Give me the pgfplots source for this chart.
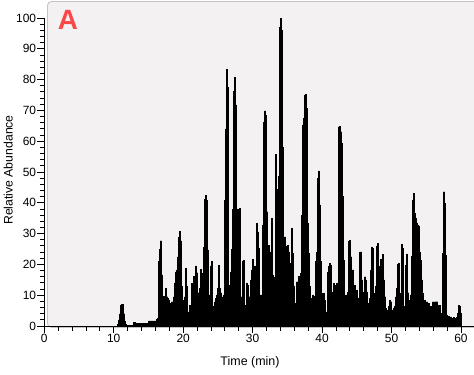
\documentclass[border=0pt]{standalone}
\usepackage{fontspec}
\setmainfont{Liberation Sans}
\usepackage{pgfplots}
\pgfplotsset{compat=1.18}
\definecolor{bgc}{RGB}{243,241,242}
\definecolor{bdc}{RGB}{195,195,195}
\definecolor{lblred}{RGB}{250,72,72}
\begin{document}
\begin{tikzpicture}[x=1bp,y=1bp]
\path[use as bounding box] (0,0) rectangle (474,374);
\filldraw[fill=bgc, draw=bdc, line width=0.8bp, rounded corners=4bp] (47.5,46.5) rectangle (482,372.5);
\begin{axis}[
  at={(44.3bp,48bp)}, anchor=south west,
  scale only axis, width=429.6bp, height=324bp,
  xmin=0, xmax=61.86, ymin=0, ymax=105.2,
  axis x line=bottom, axis y line=left,
  x axis line style={-, line width=1bp},
  y axis line style={draw=none, -},
  tick align=outside,
  xtick={0,10,...,60}, ytick={0,10,...,100},
  minor xtick={0,2,...,60}, minor ytick={0,2,...,100},
  major tick length=7bp, minor tick length=4.5bp,
  tick style={black, line width=0.9bp},
  tick label style={font=\fontsize{12}{14}\selectfont, /pgf/number format/assume math mode=true},
  xticklabel style={inner sep=1bp},
  yticklabel style={inner sep=1bp},
  clip=false,
]
\addplot[fill=black, draw=black, line width=0.3bp, const plot mark mid] table {
0 0
10.47 0
10.61 0.5
10.76 2
10.90 4
11.04 6.8
11.19 7.1
11.33 7.0
11.48 4
11.62 1.5
11.76 0.5
11.91 0.3
12.77 0.3
12.92 1.3
13.06 1.3
13.21 0.9
14.93 0.9
15.08 1.7
16.08 1.7
16.23 2.2
16.37 2.6
16.52 20.9
16.66 25
16.80 27.7
16.95 16.6
17.09 5.2
17.24 9.7
17.38 7.9
17.52 12.3
17.67 9.5
17.81 9
17.96 8.4
18.10 5.2
18.24 7.4
18.39 7.9
18.53 7.5
18.68 9.5
18.82 14
18.96 17.6
19.11 18.2
19.25 22.5
19.40 28.8
19.54 30.8
19.68 27.7
19.83 12.8
19.97 8.4
20.12 4.2
20.26 9.5
20.40 18.7
20.55 12.8
20.69 4.3
20.84 4.6
20.98 6.8
21.12 6.3
21.27 13.9
21.41 12.8
21.56 16.2
21.70 14.4
21.84 19.5
21.99 17.3
22.13 10.8
22.28 8.4
22.42 12.2
22.56 18.4
22.71 9.5
22.85 17.1
23.00 25.5
23.14 41.1
23.28 42.5
23.43 40.9
23.57 24.7
23.72 10.1
23.86 7.4
24.00 19.5
24.15 21.1
24.29 6.3
24.44 6.3
24.58 7.9
24.72 9
24.87 10.1
25.01 12.2
25.16 19.8
25.30 12.2
25.44 10.8
25.59 9
25.73 9.5
25.88 10.1
26.02 40.9
26.16 64
26.31 83.4
26.45 77.6
26.60 13.3
26.74 10.7
26.88 17.6
27.03 24.9
27.17 37.9
27.32 76.1
27.46 80.7
27.60 71.8
27.75 38
27.89 32.2
28.04 38
28.18 38.3
28.32 9.5
28.47 7.5
28.61 20.9
28.76 21.4
28.90 6.8
29.04 6.8
29.19 14
29.33 13.3
29.48 9.5
29.62 9.5
29.76 15
29.91 18.2
30.05 21.6
30.20 15.2
30.34 19.5
30.48 9.5
30.63 33.3
30.77 30.6
30.92 25.2
31.06 10.1
31.20 10.1
31.35 9
31.49 32.8
31.64 66.3
31.78 69.9
31.92 68.5
32.07 37.1
32.21 13.3
32.36 26.3
32.50 18.7
32.64 24.1
32.79 35
32.93 16.6
33.08 15.8
33.22 15
33.36 55.8
33.51 44.4
33.65 22.7
33.80 48.5
33.94 97
34.08 100
34.23 96
34.37 58
34.52 22.7
34.66 29
34.80 26
34.95 15
35.09 26.3
35.24 24.1
35.38 12.8
35.52 20.3
35.67 31.7
35.81 23.6
35.96 13
36.10 7.4
36.24 7.4
36.39 14.4
36.53 14.3
36.68 16.2
36.82 7.9
36.96 17.1
37.11 36
37.25 65.3
37.40 67.4
37.54 75
37.68 75.3
37.83 70.7
37.97 33.3
38.12 23.6
38.26 12.8
38.40 6.8
38.55 9
38.69 10.1
38.84 9.7
38.98 6.8
39.12 20.9
39.27 24.1
39.41 47.9
39.56 50.4
39.70 39.3
39.84 20.9
39.99 10.6
40.13 7.9
40.28 10.6
40.42 8.4
40.56 4.6
40.71 4.6
40.85 17.6
41.00 19.3
41.14 20.3
41.28 19.8
41.43 11.1
41.57 5.2
41.72 13.9
41.86 13.3
42.00 11.7
42.15 13.9
42.29 13.3
42.44 64.7
42.58 64.9
42.72 63.1
42.87 59.3
43.01 42
43.16 21.4
43.30 6.8
43.44 10.1
43.59 9.5
43.73 11.1
43.88 27.4
44.02 27.9
44.16 22.5
44.31 18.2
44.45 18.2
44.60 12.8
44.74 13.3
44.88 6.8
45.03 11.7
45.17 7.9
45.32 9
45.46 24.1
45.60 24.1
45.75 15
45.89 5.7
46.04 11.1
46.18 16
46.32 15
46.47 11.1
46.61 7.4
46.76 7.5
46.90 9
47.04 18.2
47.19 25.7
47.33 25.2
47.48 10.6
47.62 7.9
47.76 12.8
47.91 26
48.05 26.8
48.20 19.3
48.34 15.5
48.48 21.6
48.63 16
48.77 23.3
48.92 15
49.06 9.5
49.20 5.7
49.35 5
49.49 5.2
49.64 6.3
49.78 8.4
49.92 7.9
50.07 5.2
50.21 5
50.36 5.7
50.50 6.3
50.64 9.5
50.79 12.2
50.93 20
51.08 20.3
51.22 10.6
51.36 9
51.51 26.6
51.65 25.2
51.80 6.3
51.94 2.5
52.08 19.8
52.23 23.4
52.37 10.8
52.52 7.9
52.66 8.4
52.80 10.1
52.95 22.7
53.09 40.9
53.24 43.1
53.38 36.6
53.52 35
53.67 33.5
53.81 32.8
53.96 32.5
54.10 24.1
54.24 21.4
54.39 15
54.53 10.6
54.68 7.9
54.82 8.4
54.96 6.3
55.11 7.9
55.25 5.7
55.40 7.4
55.54 5.2
55.68 6.3
55.83 5.5
55.97 7.9
56.12 7.4
56.26 7.9
56.40 7.9
56.55 7.9
56.69 6.8
56.84 5.2
56.98 6.8
57.12 4.1
57.27 4.1
57.41 23.6
57.56 43.6
57.70 39.8
57.84 23
57.99 3.6
58.13 3
58.28 3.2
58.42 2.5
58.56 3
58.71 1.9
58.85 2.5
59.00 2.8
59.14 2.5
59.28 1.9
59.43 2.8
59.57 4.1
59.72 6.8
59.86 6.3
60.00 4.1
60.10 0
61.86 0
} \closedcycle;
\draw[line width=1bp] (axis cs:0,100) -- (axis cs:0,0);
\end{axis}
\node[text=lblred, font=\fontsize{28}{28}\selectfont\bfseries, inner sep=0pt] at (68,354) {A};
\node[rotate=90, font=\fontsize{12.3}{14}\selectfont, inner sep=0pt] at (8.3,204) {Relative Abundance};
\node[font=\fontsize{12.5}{14}\selectfont, inner sep=0pt] at (250,12) {Time (min)};
\end{tikzpicture}
\end{document}
